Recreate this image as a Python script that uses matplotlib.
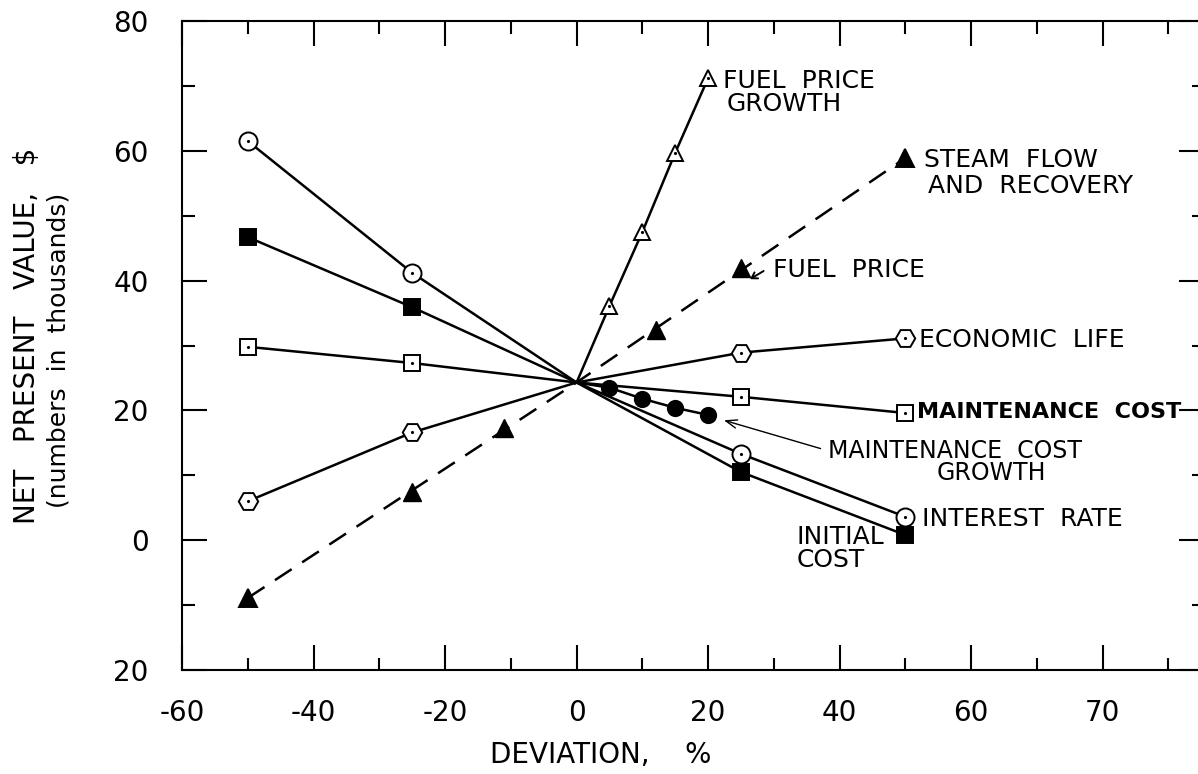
import matplotlib.pyplot as plt
from matplotlib.ticker import FixedLocator, FixedFormatter

plt.rcParams["font.family"] = ["DejaVu Sans"]

# deviation (%) -> net present value (thousands of $)
interest_x = [-50, -25, 0, 25, 50]
interest_y = [61.5, 41.2, 24.3, 13.3, 3.6]

initial_x = [-50, -25, 0, 25, 50]
initial_y = [46.7, 35.9, 24.3, 10.5, 0.8]

maint_x = [-50, -25, 0, 25, 50]
maint_y = [29.8, 27.3, 24.3, 22.1, 19.6]

life_x = [-50, -25, 0, 25, 50]
life_y = [6.0, 16.6, 24.3, 28.9, 31.1]

fuel_growth_x = [0, 5, 10, 15, 20]
fuel_growth_y = [24.3, 36.1, 47.5, 59.7, 71.2]

fuel_price_x = [-25, -11, 12, 25]
fuel_price_y = [7.4, 17.3, 32.4, 41.9]

steam_x = [-50, 0, 50]
steam_y = [-8.9, 24.3, 58.9]

maint_growth_x = [0, 5, 10, 15, 20]
maint_growth_y = [24.3, 23.5, 21.8, 20.4, 19.3]

xtick_pos = [-60, -40, -20, 0, 20, 40, 60, 80]
xtick_lbl = ["-60", "-40", "-20", "0", "20", "40", "60", "70"]
ytick_pos = [-20, 0, 20, 40, 60, 80]
ytick_lbl = ["20", "0", "20", "40", "60", "80"]

fig = plt.figure(figsize=(11.98, 7.74), dpi=100)
ax = fig.add_axes([182 / 1198, 104 / 774, 1022 / 1198, 649 / 774])
ax.set_xlim(-60, 95.4)
ax.set_ylim(-20, 80)

LW = 1.8


def nonzero(xs):
    return [i for i, v in enumerate(xs) if v != 0]


def series(xs, ys, marker, ms, filled, ls="-"):
    ax.plot(xs, ys, color="black", lw=LW, ls=ls, zorder=2)
    idx = nonzero(xs)
    mx = [xs[i] for i in idx]
    my = [ys[i] for i in idx]
    ax.plot(mx, my, marker, ms=ms, ls="none", mec="black", mew=1.4,
            mfc="black" if filled else "white", zorder=4)
    if not filled:
        ax.plot(mx, my, ".", ms=2.5, color="black", ls="none", zorder=5)


series(interest_x, interest_y, "o", 13, False)
series(initial_x, initial_y, "s", 12, True)
series(maint_x, maint_y, "s", 12, False)
series(life_x, life_y, "H", 14, False)
series(fuel_growth_x, fuel_growth_y, "^", 12, False)
series(maint_growth_x, maint_growth_y, "o", 11, True)
series(steam_x, steam_y, "^", 13, True, ls=(0, (8, 5)))
ax.plot(fuel_price_x, fuel_price_y, "^", ms=13, color="black", ls="none", zorder=4)

fs = 18
ax.text(22.3, 70.8, "FUEL  PRICE", fontsize=fs, va="center")
ax.text(22.8, 67.2, "GROWTH", fontsize=fs, va="center")
ax.text(52.8, 58.6, "STEAM  FLOW", fontsize=fs, va="center")
ax.text(53.4, 54.6, "AND  RECOVERY", fontsize=fs, va="center")
ax.text(29.8, 41.6, "FUEL  PRICE", fontsize=fs, va="center")
ax.annotate("", xy=(26.0, 40.0), xytext=(28.8, 41.7),
            arrowprops=dict(arrowstyle="->,head_length=0.4,head_width=0.25",
                            lw=1.4, color="black"))
ax.text(52.0, 30.8, "ECONOMIC  LIFE", fontsize=fs, va="center")
ax.text(51.7, 19.75, "MAINTENANCE  COST", fontsize=16, va="center",
        fontweight="bold")
ax.text(38.2, 13.8, "MAINTENANCE  COST", fontsize=17, va="center")
ax.text(54.8, 10.4, "GROWTH", fontsize=17, va="center")
ax.annotate("", xy=(22.0, 18.6), xytext=(37.5, 14.0),
            arrowprops=dict(arrowstyle="->,head_length=0.8,head_width=0.3",
                            lw=1.0, color="black"))
ax.text(52.5, 3.3, "INTEREST  RATE", fontsize=fs, va="center")
ax.text(33.5, 0.5, "INITIAL", fontsize=fs, va="center")
ax.text(33.5, -3.05, "COST", fontsize=fs, va="center")

# ticks, inward on all sides, labels left and bottom only
ax.xaxis.set_major_locator(FixedLocator(xtick_pos))
ax.xaxis.set_major_formatter(FixedFormatter(xtick_lbl))
ax.yaxis.set_major_locator(FixedLocator(ytick_pos))
ax.yaxis.set_major_formatter(FixedFormatter(ytick_lbl))
ax.xaxis.set_minor_locator(FixedLocator([-50, -30, -10, 10, 30, 50, 70, 90]))
ax.yaxis.set_minor_locator(FixedLocator([-10, 10, 30, 50, 70]))
ax.tick_params(which="both", direction="in", top=True, right=True, width=1.5,
               labelsize=20)
ax.tick_params(which="major", length=18)
ax.tick_params(which="minor", length=9)
ax.tick_params(axis="x", pad=21)
ax.tick_params(axis="y", pad=24)
for s in ax.spines.values():
    s.set_linewidth(1.5)

fig.text(27 / 1198, 1 - 336 / 774, "NET   PRESENT   VALUE,   $", rotation=90,
         fontsize=20, ha="center", va="center")
fig.text(59 / 1198, 1 - 350 / 774, "(numbers  in  thousands)", rotation=90,
         fontsize=18, ha="center", va="center")
fig.text(490 / 1198, 1 - 755 / 774, "DEVIATION,    %", fontsize=20,
         ha="left", va="center")

fig.savefig("out.png", dpi=100)
